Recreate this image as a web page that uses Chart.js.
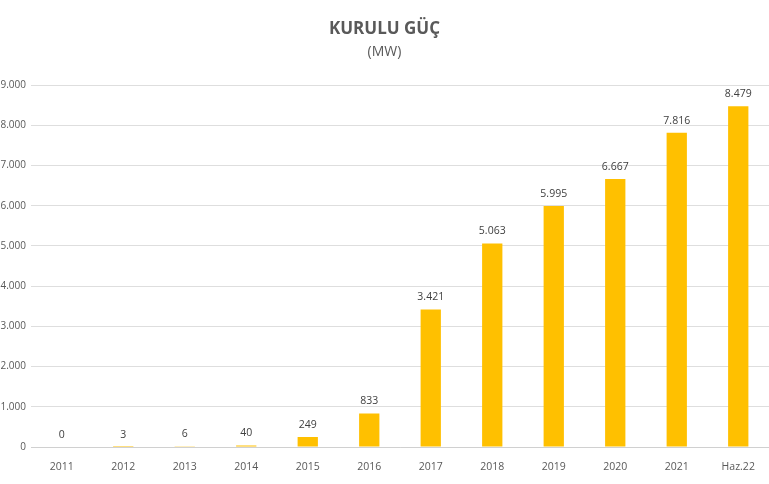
<!DOCTYPE html>
<html>
<head>
<meta charset="utf-8">
<script src="https://cdn.jsdelivr.net/npm/chart.js@4"></script>
<style>
html,body{margin:0;padding:0;background:#fff;}
#wrap{width:769px;height:484px;position:relative;}
</style>
</head>
<body>
<div id="wrap"><canvas id="c" width="769" height="484"></canvas></div>
<script>
const categories = ['2011','2012','2013','2014','2015','2016','2017','2018','2019','2020','2021','Haz.22'];
const capacityMW = [0, 3, 6, 40, 249, 833, 3421, 5063, 5995, 6667, 7816, 8479];
const yTicks = [0,1000,2000,3000,4000,5000,6000,7000,8000,9000];

const fmt = v => v.toLocaleString('tr-TR');

const labelPlugin = {
  id: 'barLabels',
  afterDatasetsDraw(chart) {
    const ctx = chart.ctx;
    const meta = chart.getDatasetMeta(0);
    ctx.save();
    ctx.font = '10.5px "Open Sans", sans-serif';
    ctx.fillStyle = '#404040';
    ctx.textAlign = 'center';
    ctx.textBaseline = 'bottom';
    meta.data.forEach((bar, i) => {
      ctx.fillText(fmt(capacityMW[i]), bar.x, bar.y - 7);
    });
    ctx.restore();
  }
};

new Chart(document.getElementById('c'), {
  type: 'bar',
  data: {
    labels: categories,
    datasets: [{
      data: capacityMW,
      backgroundColor: '#FFC000',
      borderWidth: 0,
      barPercentage: 0.66,
      categoryPercentage: 0.5
    }]
  },
  options: {
    responsive: false,
    animation: false,
    layout: { padding: { left: 0, right: 0, top: 0, bottom: 0 } },
    plugins: {
      legend: { display: false },
      tooltip: { enabled: false },
      title: {
        display: true,
        text: 'KURULU GÜÇ',
        color: '#595959',
        font: { family: '"Open Sans", sans-serif', size: 17, weight: 'bold' },
        padding: { top: 19, bottom: 4 }
      },
      subtitle: {
        display: true,
        text: '(MW)',
        color: '#595959',
        font: { family: '"Open Sans", sans-serif', size: 14 },
        padding: { top: 0, bottom: 25 }
      }
    },
    scales: {
      x: {
        grid: { display: false },
        border: { color: '#D0D0D0' },
        ticks: { color: '#595959', font: { family: '"Open Sans", sans-serif', size: 10.5 }, maxRotation: 0, padding: 6 },
        afterFit(s) { s.height = 37; }
      },
      y: {
        min: 0, max: 9000,
        afterBuildTicks(s) { s.ticks = yTicks.map(v => ({ value: v })); },
        grid: { color: '#DEDEDE', drawTicks: false },
        border: { display: false },
        ticks: { color: '#595959', font: { family: '"Open Sans", sans-serif', size: 10 }, padding: 5, callback: v => fmt(v) },
        afterFit(s) { s.width = 31; }
      }
    }
  },
  plugins: [labelPlugin]
});
</script>
</body>
</html>
